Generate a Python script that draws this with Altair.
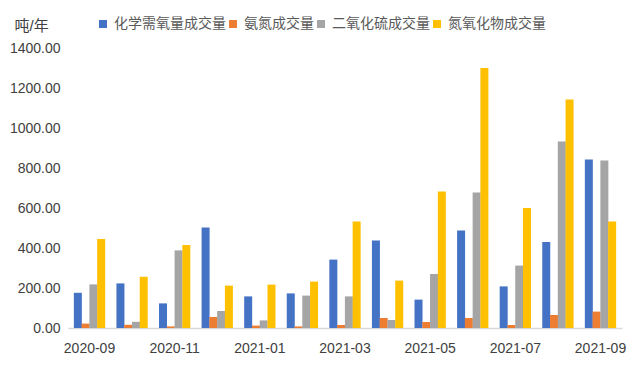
import altair as alt
import pandas as pd

months = ["2020-09", "2020-10", "2020-11", "2020-12", "2021-01", "2021-02", "2021-03",
          "2021-04", "2021-05", "2021-06", "2021-07", "2021-08", "2021-09"]
series = ["化学需氧量成交量", "氨氮成交量", "二氧化硫成交量", "氮氧化物成交量"]
cod = [176, 223, 123, 503, 158, 173, 342, 438, 142, 488, 208, 430, 842]
nh3 = [22, 16, 8, 55, 12, 8, 15, 50, 30, 50, 15, 65, 82]
so2 = [218, 31, 388, 85, 38, 162, 158, 40, 270, 677, 312, 933, 837]
nox = [445, 256, 415, 212, 217, 232, 532, 237, 682, 1300, 600, 1142, 532]
colors = ["#4472C4", "#ED7D31", "#A5A5A5", "#FFC000"]
shown_ticks = ["2020-09", "2020-11", "2021-01", "2021-03", "2021-05", "2021-07", "2021-09"]

rows = []
for vals, s in zip([cod, nh3, so2, nox], series):
    for m, v in zip(months, vals):
        rows.append({"month": m, "series": s, "value": v})
df = pd.DataFrame(rows)

font = "Liberation Sans, Noto Sans CJK SC"

chart = alt.Chart(df).mark_bar(size=8).encode(
    x=alt.X("month:N", sort=months,
            scale=alt.Scale(paddingInner=0.27, paddingOuter=0.14),
            axis=alt.Axis(title=None, values=shown_ticks, labelAngle=0, ticks=False,
                          domainColor="#D9D9D9", domainWidth=1.5, labelPadding=13,
                          labelFontSize=14, labelColor="#404040", labelFont=font)),
    xOffset=alt.XOffset("series:N", sort=series, scale=alt.Scale(domain=series, paddingInner=0, paddingOuter=0)),
    y=alt.Y("value:Q",
            scale=alt.Scale(domain=[0, 1400]),
            axis=alt.Axis(values=[0, 200, 400, 600, 800, 1000, 1200, 1400], format=".2f",
                          grid=False, ticks=False, domain=False, labelPadding=8,
                          labelFontSize=14, labelColor="#404040", labelFont=font,
                          title="吨/年", titleAngle=0, titleAlign="left", titleBaseline="middle",
                          titleX=-54, titleY=-23, titleFontSize=15, titleFontWeight="normal",
                          titleColor="#404040", titleFont=font)),
    color=alt.Color("series:N", sort=series,
                    scale=alt.Scale(domain=series, range=colors),
                    legend=alt.Legend(title=None, orient="none", direction="horizontal",
                                      legendX=28, legendY=-31, symbolType="square",
                                      symbolSize=64, symbolStrokeWidth=0, labelFontSize=14,
                                      labelColor="#595959", labelFont=font, columnPadding=0,
                                      labelOffset=4)),
).properties(
    width=554, height=280, autosize=alt.AutoSizeParams(type="none"),
    padding={"left": 60, "top": 40, "right": 10, "bottom": 30}
).configure_view(stroke=None)

chart.save("out.html", embed_options={"renderer": "svg", "actions": False})
